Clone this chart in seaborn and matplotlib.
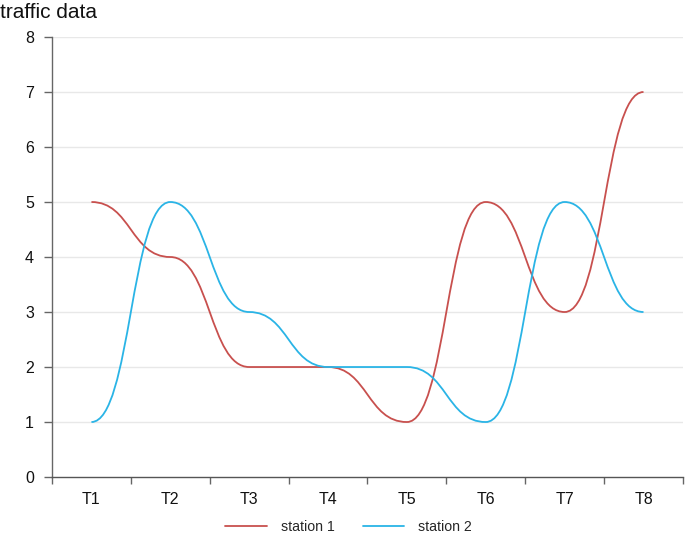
import numpy as np
import matplotlib.pyplot as plt
import seaborn as sns
from matplotlib.path import Path
from matplotlib.patches import PathPatch
from matplotlib.lines import Line2D

# chart data
categories = ['T1', 'T2', 'T3', 'T4', 'T5', 'T6', 'T7', 'T8']
station_1 = [5, 4, 2, 2, 1, 5, 3, 7]
station_2 = [1, 5, 3, 2, 2, 1, 5, 3]
series_names = ['station 1', 'station 2']
colors = ['#c8504e', '#2ab4e6']

sns.set_theme(style='white')
plt.rcParams['font.family'] = ['Liberation Sans', 'DejaVu Sans']

fig = plt.figure(figsize=(6.85, 5.34), dpi=100)
ax = fig.add_axes([0.0759, 0.1067, 0.9211, 0.824])


def smooth_path(xs, ys):
    # cubic bezier segments with flat tangents at every data point
    verts = [(xs[0], ys[0])]
    codes = [Path.MOVETO]
    for i in range(len(xs) - 1):
        dx = (xs[i + 1] - xs[i]) * 0.5
        verts += [(xs[i] + dx, ys[i]), (xs[i + 1] - dx, ys[i + 1]), (xs[i + 1], ys[i + 1])]
        codes += [Path.CURVE4] * 3
    return Path(verts, codes)


x_idx = np.arange(len(categories))
for vals, col in zip([station_1, station_2], colors):
    patch = PathPatch(smooth_path(x_idx, vals), facecolor='none', edgecolor=col,
                      lw=1.3, zorder=3)
    ax.add_patch(patch)

ax.set_xlim(-0.5, len(categories) - 0.5)
ax.set_ylim(0, 8)

# grid
ax.set_yticks(range(0, 9))
ax.set_yticklabels([str(v) for v in range(0, 9)], fontsize=11.5, color='#111111')
for v in range(1, 9):
    ax.axhline(v, color='#e8e8e8', lw=1, zorder=1)

# x ticks at band boundaries, labels at band centres
ax.set_xticks(np.arange(-0.5, len(categories)), minor=False)
ax.set_xticklabels([])
ax.set_xticks(x_idx, minor=True)
ax.set_xticklabels(categories, minor=True, fontsize=11.5, color='#111111')
ax.tick_params(axis='x', which='major', bottom=True, length=5, width=1,
               color='#666666', direction='out')
ax.tick_params(axis='x', which='minor', bottom=True, length=0, pad=11)
ax.tick_params(axis='y', left=True, length=6, width=1, color='#666666',
               direction='out', pad=7)

for side in ['top', 'right']:
    ax.spines[side].set_visible(False)
ax.spines['left'].set_color('#666666')
ax.spines['bottom'].set_color('#555555')
ax.spines['left'].set_linewidth(1)
ax.spines['bottom'].set_linewidth(1)

fig.text(0.0, 0.977, 'traffic data', fontsize=15, ha='left', va='center', color='#111111')

handles = [Line2D([0], [0], color=c, lw=1.3) for c in colors]
fig.legend(handles, series_names, loc='center', bbox_to_anchor=(0.509, 0.014),
           ncol=2, frameon=False, fontsize=10.2, handlelength=2.9,
           columnspacing=2.0, handletextpad=1.0)

plt.savefig('out.png', dpi=100)
